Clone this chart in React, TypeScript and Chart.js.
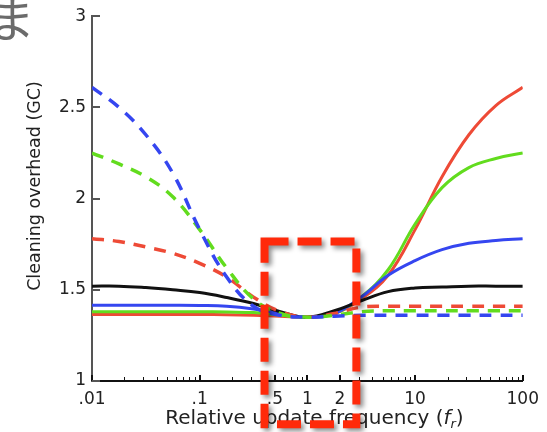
import React, { useEffect, useRef } from "react";
import { Chart, registerables } from "chart.js";
Chart.register(...registerables);

// x positions of the sampled points (log-spaced from .01 to 100)
const xValues = [0.01, 0.0178, 0.0316, 0.0562, 0.1, 0.178, 0.316, 0.562, 1, 1.78, 3.16, 5.62, 10, 17.8, 31.6, 56.2, 100];

const solidRed = [1.365, 1.365, 1.365, 1.365, 1.365, 1.363, 1.36, 1.355, 1.35, 1.37, 1.45, 1.58, 1.83, 2.12, 2.35, 2.51, 2.61];
const solidGreen = [1.38, 1.38, 1.38, 1.38, 1.38, 1.378, 1.375, 1.36, 1.35, 1.37, 1.46, 1.61, 1.86, 2.06, 2.17, 2.22, 2.25];
const solidBlue = [1.415, 1.415, 1.415, 1.415, 1.414, 1.41, 1.395, 1.37, 1.35, 1.37, 1.46, 1.58, 1.66, 1.72, 1.755, 1.77, 1.78];
const solidBlack = [1.52, 1.52, 1.512, 1.5, 1.485, 1.458, 1.425, 1.38, 1.35, 1.385, 1.44, 1.49, 1.51, 1.515, 1.52, 1.52, 1.52];
const dashedBlue = [2.61, 2.5, 2.35, 2.14, 1.83, 1.57, 1.41, 1.36, 1.35, 1.355, 1.36, 1.36, 1.36, 1.36, 1.36, 1.36, 1.36];
const dashedGreen = [2.25, 2.19, 2.12, 2.01, 1.83, 1.62, 1.45, 1.37, 1.35, 1.36, 1.38, 1.385, 1.385, 1.385, 1.385, 1.385, 1.385];
const dashedRed = [1.78, 1.765, 1.735, 1.7, 1.645, 1.57, 1.46, 1.38, 1.35, 1.37, 1.405, 1.41, 1.41, 1.41, 1.41, 1.41, 1.41];

const xTicks = [0.01, 0.1, 0.5, 1, 2, 10, 100];
const xTickLabels = [".01", ".1", ".5", "1", "2", "10", "100"];
const xMinorTicks = [
  0.02, 0.03, 0.04, 0.05, 0.06, 0.07, 0.08, 0.09,
  0.2, 0.3, 0.4, 0.6, 0.7, 0.8, 0.9,
  3, 4, 5, 6, 7, 8, 9,
  20, 30, 40, 50, 60, 70, 80, 90,
];
const yTicks = [1, 1.5, 2, 2.5, 3];
const yTickLabels = ["1", "1.5", "2", "2.5", "3"];

// highlighted region (data units)
const boxX = [0.4, 2.85];
const boxY = [0.763, 1.765];

const yTitle = "Cleaning overhead (GC)";
const xTitleMain = "Relative update frequency (";
const xTitleVar = "f";
const xTitleSub = "r";
const xTitleEnd = ")";
const cornerGlyph = "ま";

const RED = "#ee4a36";
const GREEN = "#62dc1e";
const BLUE = "#3546f0";
const BLACK = "#111111";
const FONT = '"DejaVu Sans", sans-serif';

const mk = (arr: number[]) => xValues.map((x, i) => ({ x, y: arr[i] }));

const decor = {
  id: "decor",
  afterDraw(chart: any) {
    const { ctx, chartArea, scales } = chart;
    const xs = scales.x;
    const ys = scales.y;
    ctx.save();

    // inward x ticks
    ctx.strokeStyle = "#111";
    ctx.lineWidth = 1;
    for (const v of xMinorTicks) {
      const px = Math.round(xs.getPixelForValue(v)) + 0.5;
      ctx.beginPath();
      ctx.moveTo(px, chartArea.bottom);
      ctx.lineTo(px, chartArea.bottom - 4);
      ctx.stroke();
    }
    ctx.lineWidth = 2;
    for (const v of xTicks) {
      const px = Math.round(xs.getPixelForValue(v));
      ctx.beginPath();
      ctx.moveTo(px, chartArea.bottom);
      ctx.lineTo(px, chartArea.bottom - 6);
      ctx.stroke();
    }
    // inward y ticks
    ctx.strokeStyle = "#555";
    ctx.lineWidth = 2;
    for (const v of yTicks) {
      const py = Math.round(ys.getPixelForValue(v));
      ctx.beginPath();
      ctx.moveTo(chartArea.left, py);
      ctx.lineTo(chartArea.left + 8, py);
      ctx.stroke();
    }

    // y title
    ctx.fillStyle = "#222";
    ctx.save();
    ctx.translate(35, 186);
    ctx.rotate(-Math.PI / 2);
    ctx.font = "17.5px " + FONT;
    ctx.textAlign = "center";
    ctx.textBaseline = "middle";
    ctx.fillText(yTitle, 0, 0);
    ctx.restore();

    // x title with italic subscript
    const parts = [
      { t: xTitleMain, f: "20px " + FONT, dy: 0 },
      { t: xTitleVar, f: "italic 20px " + FONT, dy: 0 },
      { t: xTitleSub, f: "italic 13px " + FONT, dy: 4 },
      { t: xTitleEnd, f: "20px " + FONT, dy: 0 },
    ];
    let total = 0;
    for (const p of parts) {
      ctx.font = p.f;
      total += ctx.measureText(p.t).width;
    }
    let cx = (chartArea.left + chartArea.right) / 2 + 7 - total / 2;
    ctx.textAlign = "left";
    ctx.textBaseline = "alphabetic";
    for (const p of parts) {
      ctx.font = p.f;
      ctx.fillText(p.t, cx, 424 + p.dy);
      cx += ctx.measureText(p.t).width;
    }

    // corner glyph
    ctx.fillStyle = "#6b6b6b";
    ctx.font = '48px "Noto Sans CJK JP"';
    ctx.textAlign = "center";
    ctx.textBaseline = "middle";
    ctx.fillText(cornerGlyph, 11, 19);

    // highlighted dashed box
    const l = xs.getPixelForValue(boxX[0]);
    const r = xs.getPixelForValue(boxX[1]);
    const t = ys.getPixelForValue(boxY[1]);
    const b = ys.getPixelForValue(boxY[0]);
    ctx.shadowColor = "rgba(0,0,0,0.45)";
    ctx.shadowBlur = 5;
    ctx.shadowOffsetX = 3;
    ctx.shadowOffsetY = 3;
    ctx.strokeStyle = "#ff2a0a";
    ctx.lineWidth = 8;
    ctx.setLineDash([24, 9]);
    ctx.beginPath();
    ctx.moveTo(l, t);
    ctx.lineTo(r, t);
    ctx.lineTo(r, b);
    ctx.lineTo(l, b);
    ctx.closePath();
    ctx.stroke();
    ctx.restore();
  },
};

export default function App() {
  const ref = useRef<HTMLCanvasElement | null>(null);
  useEffect(() => {
    if (!ref.current) return;
    const solid = (label: string, color: string, arr: number[]) => ({
      label,
      data: mk(arr),
      borderColor: color,
      borderWidth: 3,
      pointRadius: 0,
      fill: false,
      tension: 0.4,
    });
    const dashed = (label: string, color: string, arr: number[]) => ({
      ...solid(label, color, arr),
      borderWidth: 3.5,
      borderDash: [12, 9],
    });
    const chart = new Chart(ref.current, {
      type: "line",
      data: {
        datasets: [
          dashed("dashed blue", BLUE, dashedBlue),
          dashed("dashed green", GREEN, dashedGreen),
          dashed("dashed red", RED, dashedRed),
          solid("black", BLACK, solidBlack),
          solid("blue", BLUE, solidBlue),
          solid("green", GREEN, solidGreen),
          solid("red", RED, solidRed),
        ],
      },
      options: {
        responsive: false,
        maintainAspectRatio: false,
        devicePixelRatio: 1,
        animation: false,
        layout: { padding: { left: 0, right: 24, top: 13, bottom: 0 } },
        plugins: { legend: { display: false }, tooltip: { enabled: false } },
        scales: {
          x: {
            type: "logarithmic",
            min: 0.01,
            max: 100,
            afterBuildTicks: (s: any) => {
              s.ticks = xTicks.map((v) => ({ value: v }));
            },
            afterFit: (s: any) => {
              s.height = 51;
            },
            ticks: {
              autoSkip: false,
              maxRotation: 0,
              padding: 8,
              color: "#222",
              font: { family: "DejaVu Sans", size: 17 },
              callback: (v: any) => {
                const i = xTicks.indexOf(Number(v));
                return i >= 0 ? xTickLabels[i] : "";
              },
            },
            grid: { display: false, drawTicks: false },
            border: { display: true, color: "#111", width: 2 },
          },
          y: {
            type: "linear",
            min: 1,
            max: 3,
            afterBuildTicks: (s: any) => {
              s.ticks = yTicks.map((v) => ({ value: v }));
            },
            afterFit: (s: any) => {
              s.width = 92;
            },
            ticks: {
              padding: 6,
              color: "#222",
              font: { family: "DejaVu Sans", size: 17 },
              callback: (v: any) => {
                const i = yTicks.indexOf(Number(v));
                return i >= 0 ? yTickLabels[i] : "";
              },
            },
            grid: { display: false, drawTicks: false },
            border: { display: true, color: "#555", width: 2 },
          },
        },
      },
      plugins: [decor],
    });
    return () => chart.destroy();
  }, []);
  return (
    <div style={{ position: "fixed", left: 0, top: 0, width: 547, height: 432, background: "#fff" }}>
      <canvas ref={ref} width={547} height={432} style={{ display: "block", width: 547, height: 432 }} />
    </div>
  );
}
